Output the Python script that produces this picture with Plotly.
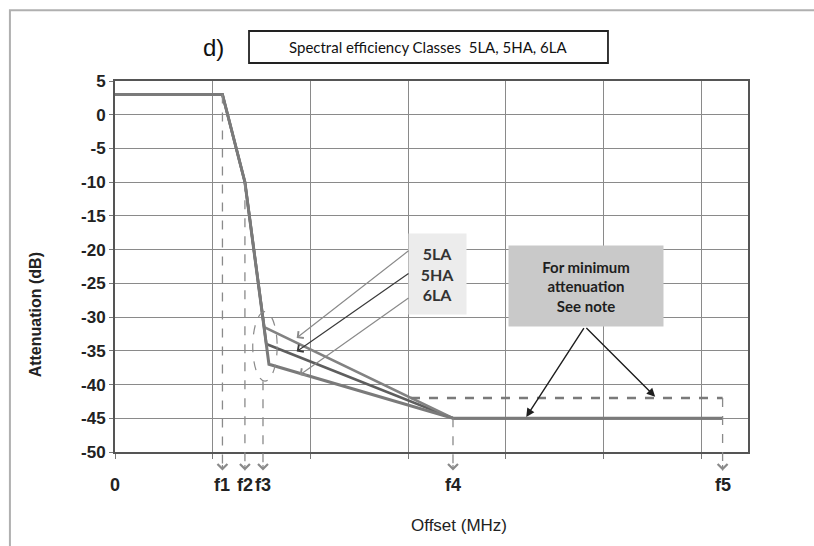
import plotly.graph_objects as go

# ---------------- data ----------------
classes = ["5LA", "5HA", "6LA"]
x_5LA = [0, 1.10, 1.33, 1.528, 3.46, 6.22]
y_5LA = [3, 3, -10, -31.5, -45, -45]
x_5HA = [0, 1.10, 1.33, 1.549, 3.46, 6.22]
y_5HA = [3, 3, -10, -34, -45, -45]
x_6LA = [0, 1.10, 1.33, 1.576, 3.46, 6.22]
y_6LA = [3, 3, -10, -37, -45, -45]

min_att_x = [3.03, 6.22]
min_att_y = [-42, -42]

freq_labels = ["0", "f1", "f2", "f3", "f4", "f5"]
freq_pos = [0, 1.10, 1.33, 1.515, 3.46, 6.22]
freq_from_y = [None, 3, -10, -39.5, -45, -42]

y_ticks = [5, 0, -5, -10, -15, -20, -25, -30, -35, -40, -45, -50]
y_tick_labels = ["5", "0", "-5", "-10", "-15", "-20", "-25", "-30", "-35", "-40", "-45", "-50"]
Y_MIN, Y_MAX = -50, 5
X_MIN, X_MAX = 0, 6.48

def ypap(v):
    return (v - Y_MIN) / (Y_MAX - Y_MIN)

GRID = "#8a8a8a"
FONT = "Liberation Sans"

fig = go.Figure()

fig.add_trace(go.Scatter(x=x_5HA, y=y_5HA, mode="lines", name="5HA",
                         line=dict(color="#5e5e5e", width=2.6)))
fig.add_trace(go.Scatter(x=x_5LA, y=y_5LA, mode="lines", name="5LA",
                         line=dict(color="#828282", width=2.6)))
fig.add_trace(go.Scatter(x=x_6LA, y=y_6LA, mode="lines", name="6LA",
                         line=dict(color="#7a7a7a", width=3)))
fig.add_trace(go.Scatter(x=min_att_x, y=min_att_y, mode="lines", name="min",
                         line=dict(color="#7a7a7a", width=2.6, dash="dash")))

shapes = []
annotations = []

def ann(**kw):
    kw.setdefault("xanchor", "center")
    kw.setdefault("yanchor", "middle")
    annotations.append(kw)

# dashed down-arrows to the frequency labels
for fx, fy in zip(freq_pos, freq_from_y):
    if fy is None:
        continue
    shapes.append(dict(type="line", xref="x", yref="paper", x0=fx, x1=fx,
                       y0=ypap(fy), y1=-0.05,
                       line=dict(color="#8a8a8a", width=1.3, dash="dash")))
    annotations.append(dict(x=fx, y=-0.05, xref="x", yref="paper", text="",
                            showarrow=True, ax=0, ay=-7, arrowhead=4,
                            arrowsize=1.6, arrowwidth=1.2, arrowcolor="#8a8a8a"))

# frequency labels
for lab, fx in zip(freq_labels, freq_pos):
    ann(x=fx, y=-0.09, xref="x", yref="paper", text=lab, showarrow=False,
        font=dict(family=FONT, size=18, weight="bold", color="#222"))

# dashed ellipse around f3 corners
shapes.append(dict(type="circle", xref="x", yref="y", x0=1.41, x1=1.66, y0=-39.5, y1=-29.2,
                   line=dict(color="#8a8a8a", width=1.2, dash="dash")))

# class label box
ann(x=3.30, y=-23.6, xref="x", yref="y", text="5LA<br>5HA<br>6LA", showarrow=False,
    bgcolor="#ececec", width=55, height=78,
    font=dict(family="Lato", size=16, weight="bold", color="#333"))
arrow_tails = [(3.02, -20.0), (3.02, -23.4), (3.02, -27.0)]
arrow_heads = [(1.86, -33.1), (1.86, -35.1), (1.89, -38.6)]
arrow_cols = ["#8a8a8a", "#3a3a3a", "#8a8a8a"]
for (tx, ty), (hx, hy), c in zip(arrow_tails, arrow_heads, arrow_cols):
    annotations.append(dict(x=hx, y=hy, ax=tx, ay=ty, xref="x", yref="y",
                            axref="x", ayref="y", text="", showarrow=True,
                            arrowhead=4, arrowsize=1.4, arrowwidth=1.2, arrowcolor=c))

# minimum attenuation note
ann(x=4.82, y=-25.4, xref="x", yref="y", text="For minimum<br>attenuation<br>See note",
    showarrow=False, bgcolor="#c9c9c9", width=152, height=78,
    font=dict(family="Lato", size=15, weight="bold", color="#1e1e1e"))
for hx, hy in [(4.21, -44.8), (5.53, -41.8)]:
    annotations.append(dict(x=hx, y=hy, ax=4.81, ay=-31.4, xref="x", yref="y",
                            axref="x", ayref="y", text="", showarrow=True,
                            arrowhead=2, arrowsize=1.2, arrowwidth=1.4, arrowcolor="#1e1e1e"))

# title area
shapes.append(dict(type="rect", xref="paper", yref="paper", x0=0.2117, x1=0.7788,
                   y0=1.0485, y1=1.1348, line=dict(color="#222", width=1.8)))
ann(x=0.495, y=1.0916, xref="paper", yref="paper",
    text="Spectral efficiency Classes  5LA, 5HA, 6LA", showarrow=False,
    font=dict(family="Lato", size=15, color="#111"))
ann(x=0.155, y=1.0916, xref="paper", yref="paper", text="d)", showarrow=False,
    font=dict(family=FONT, size=24, color="#111"))

# outer frame
shapes.append(dict(type="rect", xref="paper", yref="paper", x0=-0.166, x1=1.2,
                   y0=-0.4, y1=1.191, line=dict(color="#b0b0b0", width=2)))

# axis titles
ann(x=-0.126, y=0.369, xref="paper", yref="paper", text="Attenuation (dB)",
    textangle=-90, showarrow=False,
    font=dict(family=FONT, size=16, weight="bold", color="#222"))
ann(x=0.543, y=-0.197, xref="paper", yref="paper", text="Offset (MHz)", showarrow=False,
    font=dict(family=FONT, size=17, color="#222"))

fig.update_layout(
    width=814, height=546,
    margin=dict(l=115, r=66, t=81, b=94),
    paper_bgcolor="white", plot_bgcolor="white",
    showlegend=False,
    shapes=shapes, annotations=annotations,
    xaxis=dict(range=[X_MIN, X_MAX], dtick=1, tick0=0, showgrid=True, gridcolor=GRID,
               gridwidth=1, zeroline=False, showline=True, linecolor="#555", linewidth=2,
               mirror=True, ticks="outside", ticklen=5, tickcolor="#777",
               showticklabels=False),
    yaxis=dict(range=[Y_MIN, Y_MAX], tickvals=y_ticks, ticktext=y_tick_labels,
               showgrid=True, gridcolor=GRID,
               gridwidth=1, zeroline=False, showline=True, linecolor="#555", linewidth=2,
               mirror=True, ticks="outside", ticklen=4, tickcolor="#777",
               tickfont=dict(family=FONT, size=17, weight="bold", color="#222")),
)

fig.write_html("out.html", config={"displayModeBar": False},
               post_script="document.body.style.margin='0';")
